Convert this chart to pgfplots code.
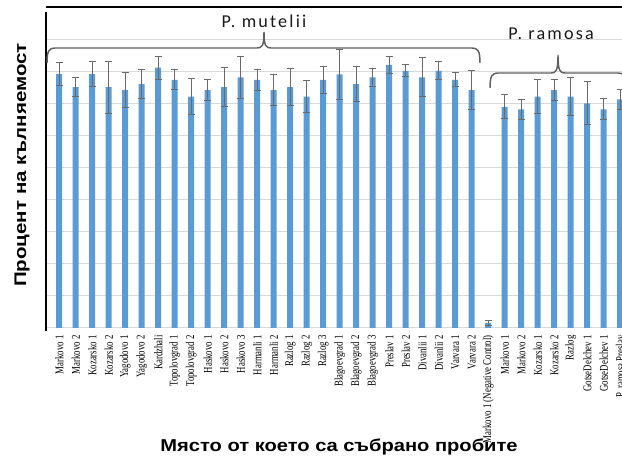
\documentclass[border=0pt]{standalone}
\usepackage{fontspec}
\setmainfont{Liberation Serif}
\newfontfamily\sansfont{Liberation Sans}
\newfontfamily\bracefont[LetterSpace=12]{Carlito}
\usepackage{pgfplots}
\pgfplotsset{compat=1.18}
\usepackage{pgfplotstable}

\definecolor{barblue}{HTML}{5B9BD5}
\definecolor{errgray}{HTML}{6A6A6A}
\definecolor{gridgray}{HTML}{D9D9D9}
\definecolor{bracegray}{HTML}{5F5F5F}

% germination (%) with standard deviation, one row per sampling site
\pgfplotstableread{
x  y    e
0  79.1 3.6
1  75.0 3.0
2  79.1 3.9
3  75.0 8.1
4  74.1 5.5
5  76.0 4.4
6  81.1 3.6
7  77.3 3.1
8  72.1 5.5
9  74.1 3.2
10 75.0 6.1
11 78.1 6.6
12 77.3 3.3
13 74.1 4.9
14 75.0 5.8
15 72.1 5.0
16 77.3 4.1
17 79.0 7.8
18 76.0 5.4
19 78.1 2.8
20 82.0 2.7
21 80.1 1.9
22 78.1 6.1
23 80.1 2.8
24 77.3 2.2
25 74.1 6.1
26 1.6  0.7
27 68.9 3.7
28 68.1 3.1
29 72.1 5.4
30 74.1 3.2
31 72.1 5.9
32 70.0 6.7
33 68.1 3.3
34 71.2 3.1
}\germ

\begin{document}
\begin{tikzpicture}
\path[use as bounding box] (0pt,0pt) rectangle (466.5pt,348pt);
\clip (0pt,0pt) rectangle (466.5pt,348pt);
\begin{axis}[
  at={(34.5pt,102pt)}, anchor=south west,
  scale only axis, width=445.5pt, height=240.75pt,
  xmin=-0.8, xmax=35.2, ymin=0, ymax=100,
  ybar, bar width=4.5pt,
  axis line style={draw=none},
  ytick={0,10,...,100}, yticklabels={},
  ymajorgrids, grid style={gridgray, line width=0.75pt},
  ytick style={draw=none},
  xtick={0,...,34},
  xticklabels={Markovo 1, Markovo 2, Kozarsko 1, Kozarsko 2, Yagodovo 1, Yagodovo 2, Kardzhali,
    Topolovgrad 1, Topolovgrad 2, Haskovo 1, Haskovo 2, Haskovo 3, Harmanli 1, Harmanli 2,
    Razlog 1, Razlog 2, Razlog 3, Blagoevgrad 1, Blagoevgrad 2, Blagoevgrad 3, Preslav 1, Preslav 2,
    Divanlii 1, Divanlii 2, Varvara 1, Varvara 2, Markovo 1 (Negative Control),
    Markovo 1, Markovo 2, Kozarsko 1, Kozarsko 2, Razlog, GotseDelchev 1, GotseDelchev 1,
    P. ramosa Preslav},
  xtick style={draw=none},
  x tick label style={rotate=90, anchor=east, yscale=1.35, inner sep=1pt,
    font=\fontsize{6.6}{7}\selectfont, text=black},
  clip=false,
]
\addplot[fill=barblue, draw=none,
  error bars/.cd, y dir=both, y explicit,
  error bar style={errgray, line width=0.75pt},
  error mark options={errgray, rotate=90, mark size=2.6pt, line width=0.75pt}]
  table[x=x, y=y, y error=e] {\germ};
\draw[black, line width=1.5pt] (rel axis cs:0,-0.01) -- (rel axis cs:0,0.985);
\draw[black, line width=1.5pt] (rel axis cs:0,1) -- (rel axis cs:1,1);
\end{axis}

\begin{scope}[x=0.75pt,y=0.75pt]
% group braces
\draw[bracegray, line width=1.1pt] (47,401) .. controls (47,413) and (49,416) .. (55,416)
  -- (257,416) .. controls (262,416) and (264,418) .. (264,432)
  .. controls (264,418) and (266,416) .. (271,416) -- (472,416)
  .. controls (478,416) and (480,413) .. (480,401);
\draw[bracegray, line width=1.1pt] (490,376) .. controls (490,388) and (492,391) .. (498,391)
  -- (551,391) .. controls (556,391) and (558,393) .. (558,409)
  .. controls (558,393) and (560,391) .. (565,391) -- (618,391)
  .. controls (624,391) and (626,388) .. (626,376);
\node[anchor=base, font=\bracefont\fontsize{13.6}{15}\selectfont, text=black!90] at (264,436.7) {P. mutelii};
\node[anchor=base, font=\bracefont\fontsize{13.6}{15}\selectfont, text=black!90] at (551,424.7) {P. ramosa};

% axis titles
\node[anchor=base, xscale=1.17, font=\sansfont\bfseries\fontsize{12.9}{15}\selectfont] at (339,12) {Място от което са събрано пробите};
\node[anchor=base, rotate=90, xscale=1.22, font=\sansfont\bfseries\fontsize{12.6}{15}\selectfont] at (26,299) {Процент на кълняемост};
\end{scope}
\end{tikzpicture}
\end{document}
